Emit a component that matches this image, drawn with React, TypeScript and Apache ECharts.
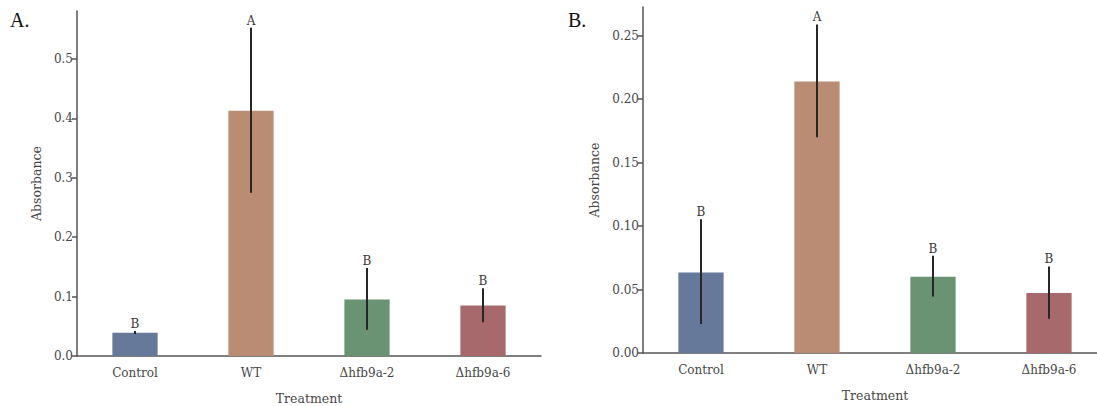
import React, { useEffect, useRef } from "react";
import * as echarts from "echarts";

const categories = ["Control", "WT", "Δhfb9a-2", "Δhfb9a-6"];
const colors = ["#66799b", "#b98c73", "#6a9374", "#a8696c"];

const meansA = [0.039, 0.413, 0.095, 0.085];
const lowA = [0.037, 0.275, 0.044, 0.057];
const highA = [0.042, 0.553, 0.148, 0.114];
const lettersA = ["B", "A", "B", "B"];
const ticksA = [0, 0.1, 0.2, 0.3, 0.4, 0.5];

const meansB = [0.0635, 0.214, 0.06, 0.0472];
const lowB = [0.0228, 0.17, 0.0446, 0.027];
const highB = [0.1055, 0.259, 0.0766, 0.0682];
const lettersB = ["B", "A", "B", "B"];
const ticksB = [0, 0.05, 0.1, 0.15, 0.2, 0.25];

const FONT = "DejaVu Serif";
const AXIS_COLOR = "#555";
const TEXT_COLOR = "#474747";

function errSeries(idx: number, low: number[], high: number[], letters: string[]) {
  return {
    type: "custom",
    xAxisIndex: idx,
    yAxisIndex: idx,
    z: 5,
    data: low.map((l, i) => [i, l, high[i]]),
    renderItem: (params: any, api: any) => {
      const x = api.value(0);
      const p1 = api.coord([x, api.value(1)]);
      const p2 = api.coord([x, api.value(2)]);
      return {
        type: "group",
        children: [
          {
            type: "line",
            shape: { x1: p1[0], y1: p1[1], x2: p2[0], y2: p2[1] },
            style: { stroke: "#262626", lineWidth: 2 },
          },
          {
            type: "text",
            x: p2[0],
            y: p2[1] - 1,
            style: {
              text: letters[params.dataIndex],
              font: `12px "${FONT}"`,
              fill: "#3a3a3a",
              align: "center",
              verticalAlign: "bottom",
            },
          },
        ],
      };
    },
  };
}

function xAxis(idx: number) {
  return {
    type: "category",
    gridIndex: idx,
    data: categories,
    axisLine: { lineStyle: { color: AXIS_COLOR, width: 1.5 } },
    axisTick: { alignWithLabel: true, length: 5, lineStyle: { color: AXIS_COLOR, width: 1.5 } },
    axisLabel: { fontFamily: FONT, fontSize: 12, color: TEXT_COLOR, margin: 11 },
    name: "Treatment",
    nameLocation: "middle",
    nameGap: 36,
    nameTextStyle: { fontFamily: FONT, fontSize: 12.5, color: TEXT_COLOR },
  };
}

function yAxis(idx: number, max: number, ticks: number[], digits: number, nameGap: number) {
  return {
    type: "value",
    gridIndex: idx,
    min: 0,
    max,
    splitLine: { show: false },
    axisLine: { show: true, lineStyle: { color: AXIS_COLOR, width: 1.5 } },
    axisTick: { show: true, length: 5, customValues: ticks, lineStyle: { color: AXIS_COLOR, width: 1.5 } },
    axisLabel: {
      customValues: ticks,
      fontFamily: FONT,
      fontSize: 12,
      color: TEXT_COLOR,
      margin: 4,
      formatter: (v: number) => v.toFixed(digits),
    },
    name: "Absorbance",
    nameLocation: "middle",
    nameGap,
    nameRotate: 90,
    nameTextStyle: { fontFamily: FONT, fontSize: 12.5, color: TEXT_COLOR },
  };
}

function barSeries(idx: number, means: number[]) {
  return {
    type: "bar",
    xAxisIndex: idx,
    yAxisIndex: idx,
    barWidth: "39%",
    data: means.map((v, i) => ({ value: v, itemStyle: { color: colors[i] } })),
  };
}

export default function App() {
  const ref = useRef<HTMLDivElement>(null);
  useEffect(() => {
    if (!ref.current) return;
    const chart = echarts.init(ref.current, null, { renderer: "svg" });
    chart.setOption({
      animation: false,
      backgroundColor: "#fff",
      textStyle: { fontFamily: FONT },
      grid: [
        { left: 77, top: 11, width: 464, height: 345, containLabel: false, outerBoundsMode: "none" },
        { left: 643, top: 7, width: 464, height: 346, containLabel: false, outerBoundsMode: "none" },
      ],
      xAxis: [xAxis(0), xAxis(1)],
      yAxis: [yAxis(0, 0.581, ticksA, 1, 34), yAxis(1, 0.2727, ticksB, 2, 42)],
      series: [
        barSeries(0, meansA),
        errSeries(0, lowA, highA, lettersA),
        barSeries(1, meansB),
        errSeries(1, lowB, highB, lettersB),
      ],
      graphic: [
        {
          type: "text",
          left: 10,
          top: 10,
          style: { text: "A.", font: '20px "Liberation Serif"', fill: "#111" },
        },
        {
          type: "text",
          left: 568,
          top: 10,
          style: { text: "B.", font: '20px "Liberation Serif"', fill: "#111" },
        },
      ],
    });
    return () => chart.dispose();
  }, []);
  return (
    <div
      ref={ref}
      style={{ position: "fixed", left: 0, top: 0, width: 1097, height: 406 }}
    />
  );
}
